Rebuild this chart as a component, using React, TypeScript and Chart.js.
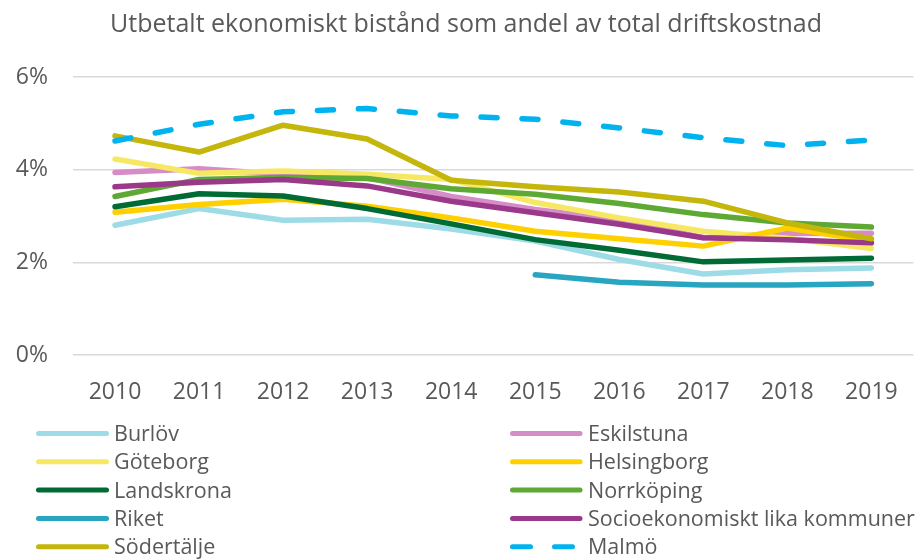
import React, { useEffect, useRef } from "react";
import { Chart, registerables } from "chart.js";

Chart.register(...registerables);

const title = "Utbetalt ekonomiskt bistånd som andel av total driftskostnad";
const years = ["2010", "2011", "2012", "2013", "2014", "2015", "2016", "2017", "2018", "2019"];
const yTicks = [0, 2, 4, 6];

const burlov = [2.8, 3.16, 2.91, 2.93, 2.72, 2.46, 2.06, 1.75, 1.84, 1.88];
const eskilstuna = [3.94, 4.02, 3.9, 3.83, 3.42, 3.14, 2.92, 2.53, 2.62, 2.63];
const goteborg = [4.23, 3.92, 3.97, 3.9, 3.79, 3.29, 2.96, 2.67, 2.52, 2.3];
const helsingborg = [3.08, 3.25, 3.36, 3.21, 2.96, 2.67, 2.51, 2.35, 2.74, 2.46];
const landskrona = [3.2, 3.48, 3.43, 3.16, 2.83, 2.49, 2.26, 2.01, 2.05, 2.09];
const norrkoping = [3.42, 3.79, 3.83, 3.81, 3.59, 3.47, 3.27, 3.03, 2.85, 2.76];
const riket = [null, null, null, null, null, 1.73, 1.57, 1.51, 1.51, 1.54];
const socio = [3.63, 3.73, 3.79, 3.65, 3.32, 3.07, 2.82, 2.53, 2.49, 2.42];
const sodertalje = [4.73, 4.38, 4.96, 4.66, 3.77, 3.63, 3.52, 3.32, 2.85, 2.51];
const malmo = [4.62, 4.98, 5.25, 5.32, 5.16, 5.09, 4.9, 4.69, 4.52, 4.64];

const seriesNames = [
  "Burlöv",
  "Eskilstuna",
  "Göteborg",
  "Helsingborg",
  "Landskrona",
  "Norrköping",
  "Riket",
  "Socioekonomiskt lika kommuner",
  "Södertälje",
  "Malmö",
];
const seriesData = [burlov, eskilstuna, goteborg, helsingborg, landskrona, norrkoping, riket, socio, sodertalje, malmo];
const seriesColors = [
  "#9DDCE7",
  "#D68CC6",
  "#F6E863",
  "#FFD000",
  "#006B35",
  "#5EA834",
  "#28A5C0",
  "#9A3889",
  "#C4B60B",
  "#00B2EE",
];
const dashed = [false, false, false, false, false, false, false, false, false, true];

const FONT = "'Open Sans', 'Noto Sans', sans-serif";
const TEXT = "#595959";

const overlayPlugin = {
  id: "overlay",
  afterDraw(chart: any) {
    const ctx = chart.ctx as CanvasRenderingContext2D;
    ctx.save();
    // title
    ctx.fillStyle = TEXT;
    ctx.font = `25px ${FONT}`;
    ctx.textAlign = "center";
    ctx.textBaseline = "alphabetic";
    ctx.fillText(title, 466, 32);
    // legend
    ctx.font = `21.5px ${FONT}`;
    ctx.textAlign = "left";
    seriesNames.forEach((name, i) => {
      const col = i % 2;
      const row = Math.floor(i / 2);
      const lx0 = col === 0 ? 38.5 : 512.5;
      const lx1 = col === 0 ? 106.5 : 580;
      const tx = col === 0 ? 114 : 588;
      const y = 433.5 + row * 28.3;
      ctx.beginPath();
      ctx.strokeStyle = seriesColors[i];
      ctx.lineWidth = 5;
      ctx.lineCap = "round";
      ctx.setLineDash(dashed[i] ? [18, 24] : []);
      ctx.moveTo(lx0, y);
      ctx.lineTo(lx1, y);
      ctx.stroke();
      ctx.setLineDash([]);
      ctx.fillStyle = TEXT;
      ctx.fillText(name, tx, y + 7.5);
    });
    ctx.restore();
  },
};

export default function App() {
  const ref = useRef<HTMLCanvasElement | null>(null);
  useEffect(() => {
    if (!ref.current) return;
    const n = seriesNames.length;
    const chart = new Chart(ref.current, {
      type: "line",
      data: {
        labels: years,
        datasets: seriesNames.map((name, i) => ({
          label: name,
          data: seriesData[i] as any,
          borderColor: seriesColors[i],
          backgroundColor: seriesColors[i],
          borderWidth: 5.5,
          borderDash: dashed[i] ? [16, 25] : [],
          borderCapStyle: "round" as const,
          borderJoinStyle: "round" as const,
          pointRadius: 0,
          tension: 0,
          fill: false,
          order: n - i,
        })),
      },
      options: {
        responsive: false,
        animation: false,
        layout: { padding: { top: 77, right: 6, bottom: 155, left: 0 } },
        plugins: {
          legend: { display: false },
          title: { display: false },
          tooltip: { enabled: false },
        },
        scales: {
          x: {
            offset: true,
            grid: { display: false, drawTicks: false },
            border: { display: false },
            ticks: { color: TEXT, font: { family: FONT, size: 23 }, padding: 24, maxRotation: 0 },
            afterFit: (s: any) => {
              s.height = 50;
            },
          },
          y: {
            min: 0,
            max: 6,
            afterBuildTicks: (s: any) => {
              s.ticks = yTicks.map((v) => ({ value: v }));
            },
            grid: { color: "#D9D9D9", lineWidth: 1.5, drawTicks: false },
            border: { display: false },
            ticks: {
              color: TEXT,
              font: { family: FONT, size: 23 },
              padding: 25,
              callback: (v: any) => `${v}%`,
            },
            afterFit: (s: any) => {
              s.width = 73;
            },
          },
        },
      },
      plugins: [overlayPlugin],
    });
    return () => chart.destroy();
  }, []);
  return (
    <div style={{ position: "absolute", left: 0, top: 0, width: 922, height: 560, background: "#fff" }}>
      <canvas ref={ref} width={922} height={560} style={{ width: 922, height: 560, display: "block" }} />
    </div>
  );
}
